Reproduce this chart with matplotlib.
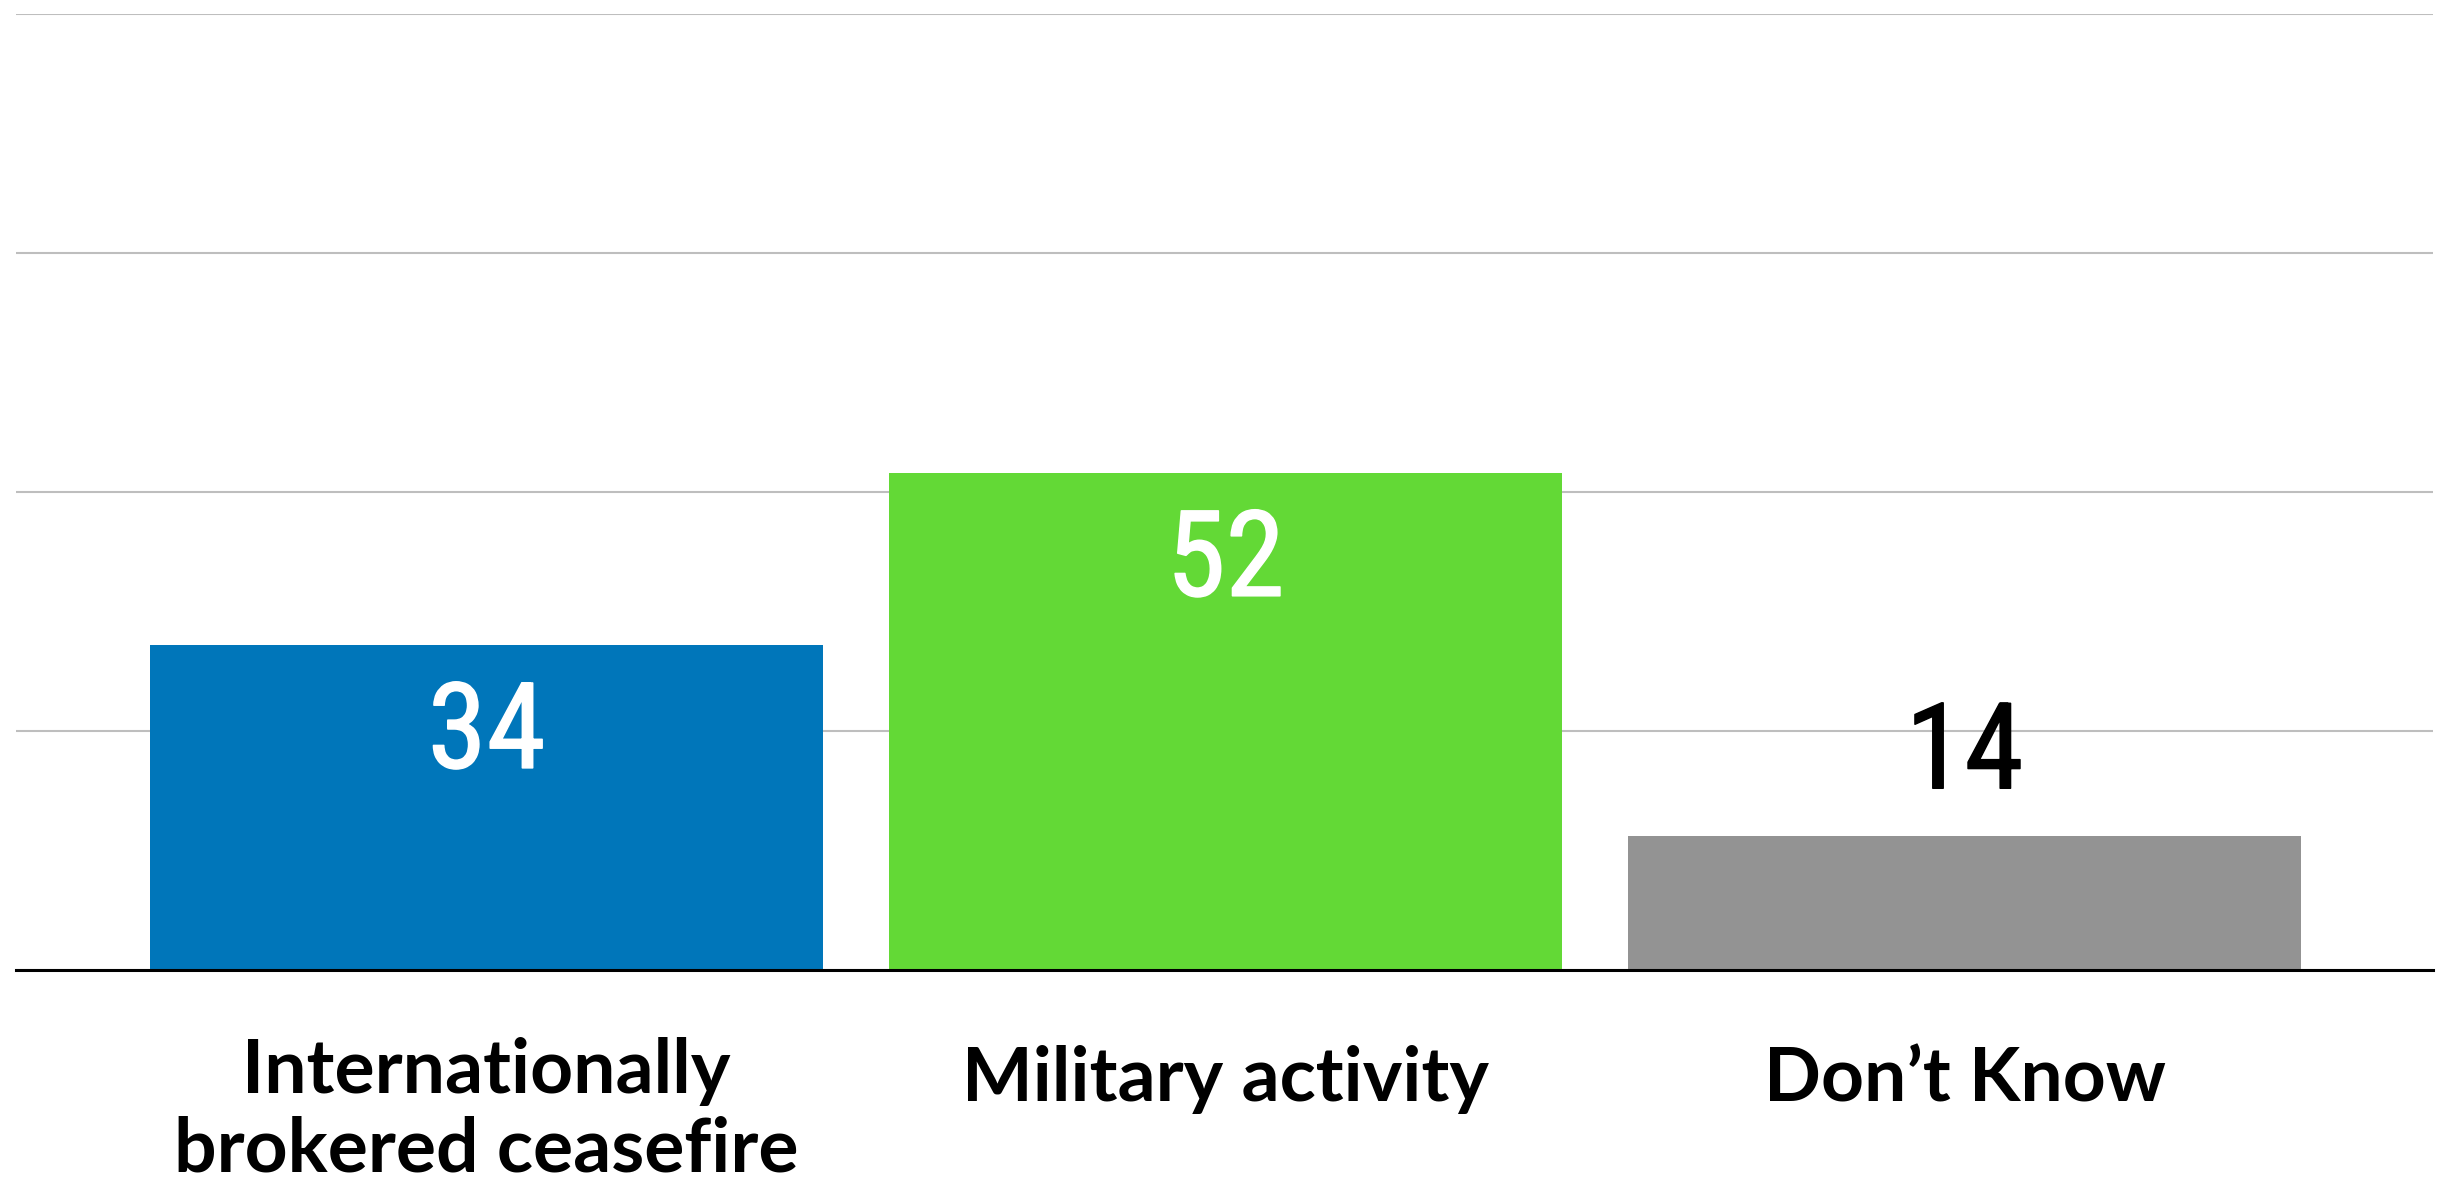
import matplotlib.pyplot as plt
import matplotlib.patheffects as pe
from matplotlib import font_manager

categories = ["Internationally\nbrokered ceasefire", "Military activity", "Don\u2019t Know"]
values = [34, 52, 14]
colors = ["#0076BA", "#63D936", "#939393"]
value_colors = ["white", "white", "black"]
yticks = [0, 25, 50, 75, 100]

# pick a condensed face for the numbers if one is around
installed = {f.name for f in font_manager.fontManager.ttflist}
num_font = [f for f in ["Liberation Sans Narrow", "Roboto Condensed",
                        "DejaVu Sans Condensed", "Liberation Sans"] if f in installed]
num_font.append("DejaVu Sans")

fig = plt.figure(figsize=(24.49, 11.83), dpi=100)
ax = fig.add_axes([16 / 2449, 1 - 970 / 1183, (2433 - 16) / 2449, (970 - 14) / 1183])

x = range(len(values))
ax.bar(x, values, width=0.91, color=colors, zorder=2)

ax.set_xlim(-0.637, 2.634)
ax.set_ylim(0, 100)
ax.set_yticks(yticks)
ax.yaxis.grid(True, color="#BEBEBE", linewidth=1.5, zorder=0)
ax.set_axisbelow(True)
ax.tick_params(left=False, bottom=False, labelleft=False, labelbottom=False)
for side in ["left", "right", "top"]:
    ax.spines[side].set_visible(False)
ax.spines["bottom"].set_color("black")
ax.spines["bottom"].set_linewidth(2.2)
ax.spines["bottom"].set_zorder(3)

for i, v in enumerate(values):
    # short bars get their number above the bar
    if v < 20:
        off = 34.5
    else:
        off = -88.5
    t = ax.annotate(str(v), xy=(i, v), xytext=(0, off), textcoords="offset points",
                    ha="center", va="baseline", fontsize=86,
                    family=num_font, color=value_colors[i], zorder=4)
    # a touch heavier than the regular face
    t.set_path_effects([pe.Stroke(linewidth=1.1, foreground=value_colors[i]), pe.Normal()])

for i, lab in enumerate(categories):
    # baseline of the last line
    off = -145 if "\n" in lab else -94.4
    ax.annotate(lab, xy=(i, 0), xycoords=("data", "axes fraction"),
                xytext=(0, off), textcoords="offset points",
                ha="center", va="baseline", fontsize=54, fontweight="bold",
                family=["Lato", "DejaVu Sans"], linespacing=1.17,
                annotation_clip=False)

fig.savefig("out.png", dpi=100)
